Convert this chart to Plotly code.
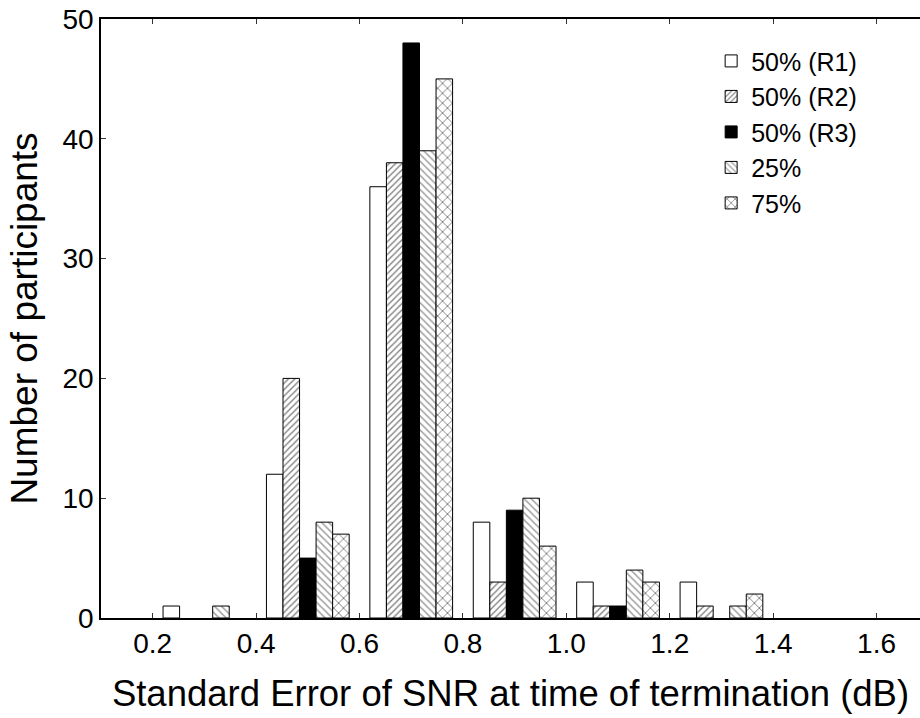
import plotly.graph_objects as go

bins = [0.3, 0.5, 0.7, 0.9, 1.1, 1.3]
r1 = [1, 12, 36, 8, 3, 3]
r2 = [0, 20, 38, 3, 1, 1]
r3 = [0, 5, 48, 9, 1, 0]
p25 = [1, 8, 39, 10, 4, 1]
p75 = [0, 7, 45, 6, 3, 2]

series = [
    ("50% (R1)", r1, dict(color="white")),
    ("50% (R2)", r2, dict(color="white", pattern=dict(shape="/", fgcolor="black", bgcolor="white", size=4.5, solidity=0.3))),
    ("50% (R3)", r3, dict(color="black")),
    ("25%", p25, dict(color="white", pattern=dict(shape="\\", fgcolor="#444", bgcolor="white", size=5, solidity=0.3))),
    ("75%", p75, dict(color="white", pattern=dict(shape="x", fgcolor="black", bgcolor="white", size=7, solidity=0.25))),
]

fig = go.Figure()
for name, vals, mk in series:
    mk = dict(mk)
    mk["line"] = dict(color="black", width=1)
    # empty bins draw no bar at all
    yv = [v if v else None for v in vals]
    fig.add_trace(go.Bar(x=bins, y=yv, name=name, marker=mk))

FONT = "Liberation Sans, Arial, sans-serif"
fig.update_layout(
    width=920, height=718,
    margin=dict(l=101, r=0, t=19, b=100, autoexpand=False),
    paper_bgcolor="white", plot_bgcolor="white",
    barmode="group", bargap=0.2, bargroupgap=0,
    font=dict(family=FONT, color="black", size=28),
    legend=dict(x=0.745, y=0.968, xanchor="left", yanchor="top",
                font=dict(size=25, family=FONT), bgcolor="rgba(0,0,0,0)",
                itemwidth=30, tracegroupgap=0),
    xaxis=dict(range=[0.1, 1.684], tick0=0.2, dtick=0.2, tickformat=".1f",
               automargin=False,
               showline=True, linecolor="black", linewidth=1.5, mirror="ticks",
               ticks="inside", ticklen=5, tickcolor="#333", showgrid=False, zeroline=False,
               tickfont=dict(size=28),
               title=dict(text="Standard Error of SNR at time of termination (dB)", font=dict(size=36.5), standoff=22)),
    yaxis=dict(range=[0, 50], dtick=10, automargin=False,
               showline=True, linecolor="black", linewidth=1.5,
               ticks="inside", ticklen=5, tickcolor="#333", showgrid=False, zeroline=False,
               tickfont=dict(size=28),
               title=dict(text="Number of participants", font=dict(size=37), standoff=14)),
)

fig.write_html("out.html", config={"displayModeBar": False},
               post_script="document.body.style.margin='0';")
